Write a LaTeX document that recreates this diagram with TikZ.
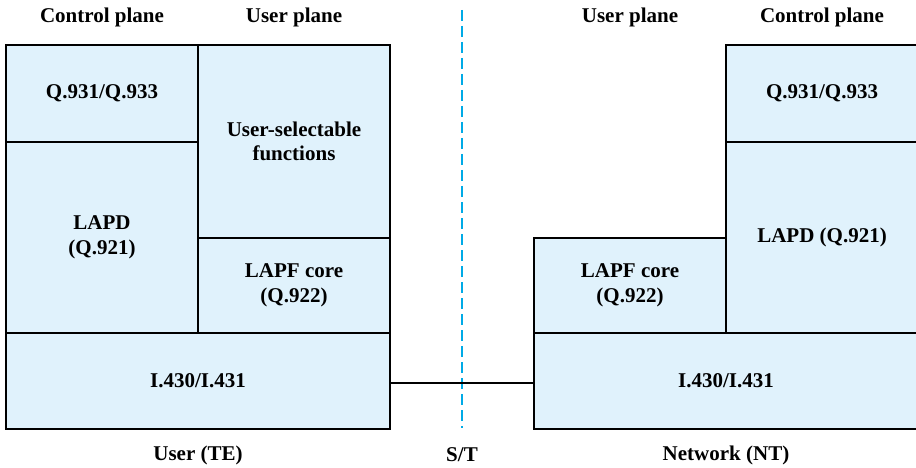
\documentclass[tikz,border=0pt]{standalone}
\usepackage{fontspec}
\setmainfont{Liberation Serif}
\definecolor{boxfill}{HTML}{E0F2FC}
\definecolor{stline}{RGB}{0,170,230}
\begin{document}
\begin{tikzpicture}[x=1pt,y=-1pt,
  every node/.style={font=\fontsize{21}{24.5}\selectfont\bfseries, align=center},
  layerbox/.style={draw=black, line width=2.2pt, fill=boxfill, inner sep=0pt, outer sep=0pt},
  lbl/.style={inner sep=0pt},
  link/.style={draw=black, line width=2.2pt},
  stdash/.style={draw=stline, line width=1.3pt, dash pattern=on 11pt off 5pt}]
\useasboundingbox (0,0) rectangle (916,468);
% S/T reference line
\coordinate (sttop) at (462,10);
\coordinate (stbot) at (462,428);
\draw[stdash] (sttop) -- (stbot);
% User (TE) side
\node[layerbox, minimum width=192pt, minimum height=97pt] (q1) at (102,93.5) {Q.931/Q.933};
\node[layerbox, minimum width=192pt, minimum height=193pt] (usf) at (294,141.5) {User-selectable\\functions};
\node[layerbox, minimum width=192pt, minimum height=191pt] (lapd1) at (102,237.5) {LAPD\\(Q.921)};
\node[layerbox, minimum width=192pt, minimum height=95pt] (lapf1) at (294,285.5) {LAPF core\\(Q.922)};
\node[layerbox, minimum width=384pt, minimum height=96pt] (phy1) at (198,381) {I.430/I.431};
% Network (NT) side
\node[layerbox, minimum width=192pt, minimum height=97pt] (q2) at (822,93.5) {Q.931/Q.933};
\node[layerbox, minimum width=192pt, minimum height=191pt] (lapd2) at (822,237.5) {LAPD (Q.921)};
\node[layerbox, minimum width=192pt, minimum height=95pt] (lapf2) at (630,285.5) {LAPF core\\(Q.922)};
\node[layerbox, minimum width=384pt, minimum height=96pt] (phy2) at (726,381) {I.430/I.431};
% physical link
\draw[link] ([yshift=-2pt]phy1.east) -- ([yshift=-2pt]phy2.west);
% headings
\node[lbl] (h1) at (102,17) {Control plane};
\node[lbl] (h2) at (294,17) {User plane};
\node[lbl] (h3) at (630,17) {User plane};
\node[lbl] (h4) at (822,17) {Control plane};
% footers
\node[lbl] (f1) at (198,455) {User (TE)};
\node[lbl] (f2) at (462,455) {S/T};
\node[lbl] (f3) at (726,455) {Network (NT)};
\end{tikzpicture}
\end{document}
